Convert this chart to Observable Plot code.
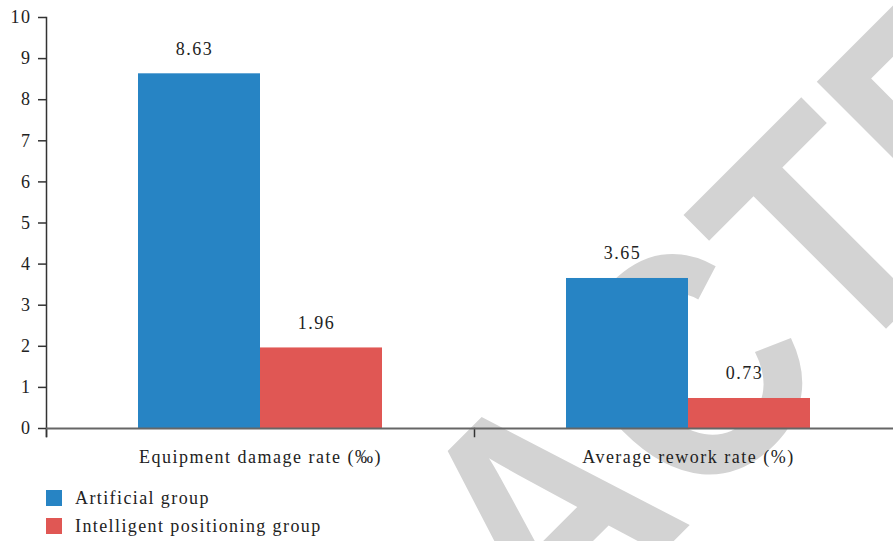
<!DOCTYPE html>
<html>
<head>
<meta charset="utf-8">
<script src="https://cdn.jsdelivr.net/npm/d3@7"></script>
<script src="https://cdn.jsdelivr.net/npm/@observablehq/plot@0.6"></script>
<style>
  html, body { margin: 0; padding: 0; background: #fff; }
  #wrap { position: relative; width: 893px; height: 541px; overflow: hidden; }
  #wm { position: absolute; left: 0; top: 0; z-index: 0; }
  #chart { position: relative; z-index: 1; }
  #chart svg text, #chart svg tspan {
    font-family: "Liberation Serif", serif !important;
    letter-spacing: 1.5px;
  }
  .lg-swatches {
    margin-left: 46px !important; margin-top: 18px !important;
    font-family: "Liberation Serif", serif !important;
    font-size: 18px !important; color: #222 !important; letter-spacing: 1.4px;
  }
  .lg-swatch { height: 20px; margin-bottom: 8px; padding-bottom: 0 !important; display: flex; align-items: center; }
  .lg-swatch svg { margin-right: 13px !important; }
</style>
</head>
<body>
<div id="wrap">
  <svg id="wm" width="893" height="541">
    <g transform="rotate(-45) scale(0.87,1)">
      <text x="-977" y="859" text-anchor="start" style="font-kerning:none"
        font-family="Liberation Sans" font-weight="bold" font-size="325" fill="#d3d3d3">RETRACTED</text>
    </g>
  </svg>
  <div id="chart"></div>
</div>
<script>
const categories = ["Equipment damage rate (‰)", "Average rework rate (%)"];
const groups = ["Artificial group", "Intelligent positioning group"];
const artificialValues = [8.63, 3.65];
const intelligentValues = [1.96, 0.73];
const yTicks = [0, 1, 2, 3, 4, 5, 6, 7, 8, 9, 10];
const colors = ["#2784C4", "#E05754"];

const data = categories.flatMap((c, i) => [
  {category: c, group: groups[0], value: artificialValues[i]},
  {category: c, group: groups[1], value: intelligentValues[i]}
]);

const font = "Liberation Serif";

const chart = Plot.plot({
  width: 893,
  height: 470,
  marginLeft: 46,
  marginRight: 0,
  marginTop: 17,
  marginBottom: 42,
  style: {fontFamily: font, fontSize: "18px", color: "#222", background: "none", overflow: "visible"},
  fx: {domain: categories, range: [46, 902], padding: 0, label: null},
  x: {domain: groups, paddingInner: 0, paddingOuter: 0.747, axis: null},
  y: {domain: [0, 10], label: null},
  color: {domain: groups, range: colors},
  marks: [
    Plot.barY(data, {fx: "category", x: "group", y: "value", fill: "group"}),
    Plot.frame({anchor: "left", facetAnchor: "left", insetBottom: -8, stroke: "#333", strokeWidth: 1.5}),
    Plot.frame({anchor: "left", insetTop: 411, insetBottom: -8, stroke: "#333", strokeWidth: 1.5}),
    Plot.ruleY([0], {stroke: "#666", strokeWidth: 2}),
    Plot.text(data, {fx: "category", x: "group", y: "value", text: d => d.value.toFixed(2), dy: -25, dx: -5, fontSize: 18, fontFamily: font, fill: "#222"}),
    Plot.axisY({ticks: yTicks, tickSize: 8, tickPadding: 7, stroke: "#333", strokeWidth: 1.5, fontSize: 18, fontFamily: font, fill: "#222", label: null}),
    Plot.axisFx({anchor: "bottom", tickSize: 0, tickPadding: 22, fontSize: 18, fontFamily: font, fill: "#222", label: null})
  ]
});

const legend = Plot.legend({
  legend: "swatches",
  color: {domain: groups, range: colors},
  swatchSize: 16,
  columns: 1,
  className: "lg"
});

const el = document.getElementById("chart");
el.appendChild(chart);
el.appendChild(legend);
</script>
</body>
</html>
